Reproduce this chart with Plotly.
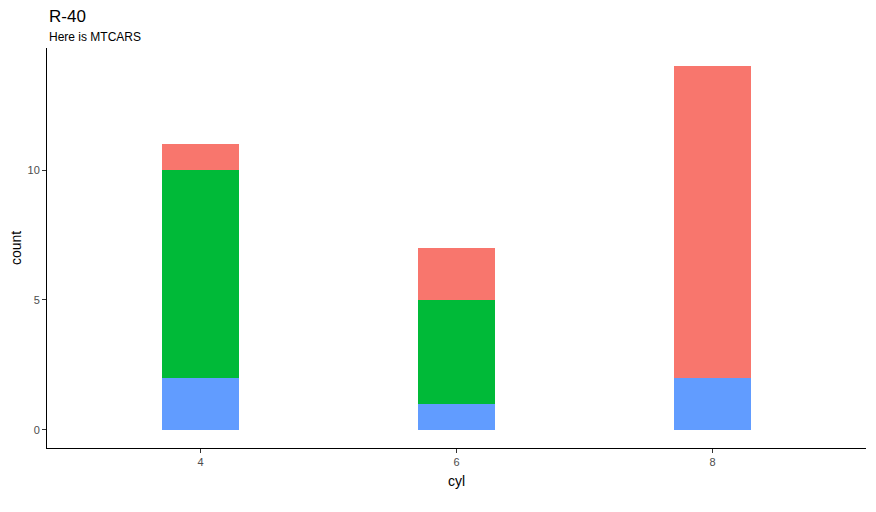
import plotly.graph_objects as go

cyl = [4, 6, 8]
gear_labels = ["5", "4", "3"]
gear5 = [2, 1, 2]
gear4 = [8, 4, 0]
gear3 = [1, 2, 12]
colors = {"3": "#F8766D", "4": "#00BA38", "5": "#619CFF"}

fig = go.Figure()
for lab, vals in zip(gear_labels, [gear5, gear4, gear3]):
    fig.add_trace(go.Bar(x=cyl, y=vals, width=0.6, name=lab,
                         marker=dict(color=colors[lab], line=dict(width=0)),
                         showlegend=False))

fig.update_layout(
    barmode="stack",
    width=868, height=504,
    margin=dict(l=39, r=10, t=40, b=64, autoexpand=False),
    plot_bgcolor="white", paper_bgcolor="white",
    font=dict(family="Liberation Sans, Arial, sans-serif", color="black"),
    xaxis=dict(range=[2.8, 9.2], tickvals=cyl, ticktext=[str(c) for c in cyl],
               automargin=False,
               showgrid=False, zeroline=False, showline=True, linecolor="black",
               linewidth=1, ticks="outside", ticklen=4, tickcolor="#333333",
               tickfont=dict(size=11, color="#4D4D4D"),
               title=dict(text="cyl", font=dict(size=14), standoff=8)),
    yaxis=dict(range=[-0.7, 14.7], tickvals=[0, 5, 10],
               automargin=False,
               showgrid=False, zeroline=False, showline=True, linecolor="black",
               linewidth=1, ticks="outside", ticklen=4, tickcolor="#333333",
               tickfont=dict(size=11, color="#4D4D4D"),
               title=dict(text="count", font=dict(size=14), standoff=10)),
)
fig.add_annotation(text="R-40", xref="paper", yref="paper", x=0, y=1,
                   xanchor="left", yanchor="bottom", yshift=20, showarrow=False,
                   font=dict(size=17, color="black"))
fig.add_annotation(text="Here is MTCARS", xref="paper", yref="paper", x=0, y=1,
                   xanchor="left", yanchor="bottom", yshift=2, showarrow=False,
                   font=dict(size=12, color="black"))

fig.write_html("out.html")
